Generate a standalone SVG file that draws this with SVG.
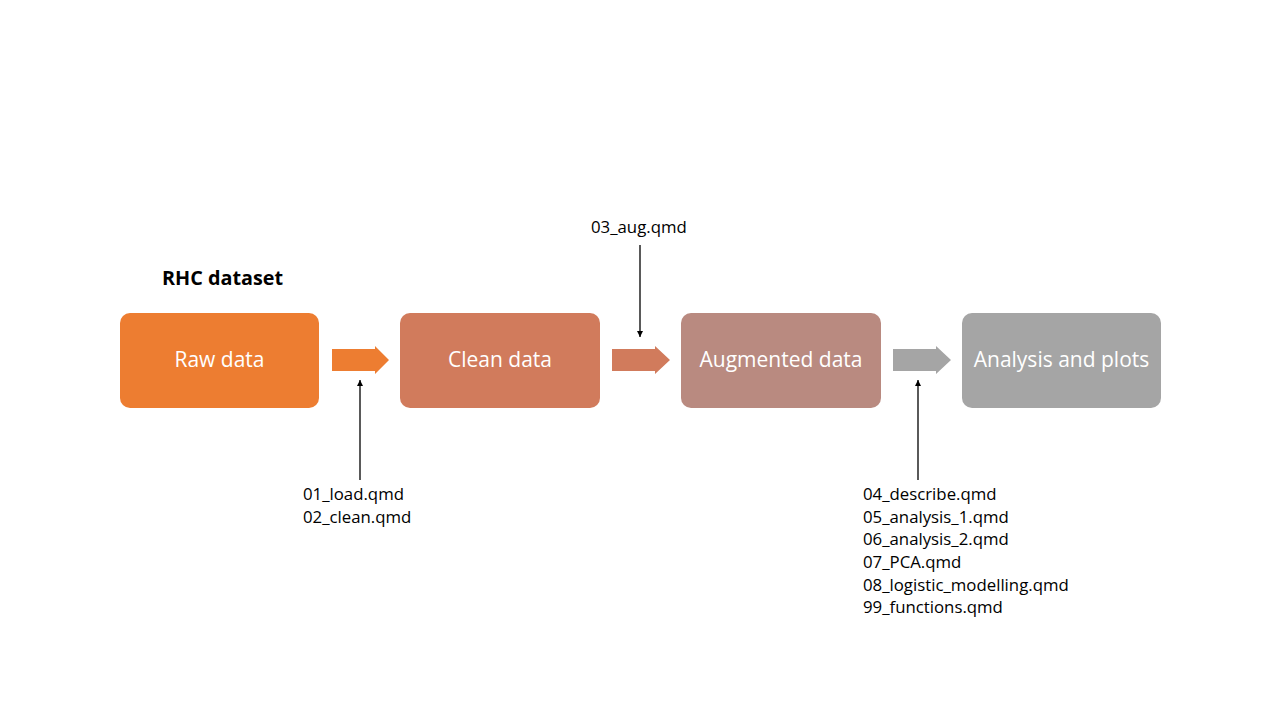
<svg xmlns="http://www.w3.org/2000/svg" width="1280" height="720" viewBox="0 0 1280 720">
<defs>
<style>
.box{stroke:none}
.bl{font-family:"Open Sans","Liberation Sans",sans-serif;font-size:21px;fill:#fff;text-anchor:middle}
.lb{font-family:"Open Sans","Liberation Sans",sans-serif;font-size:16.8px;fill:#000}
.ttl{font-family:"Open Sans","Liberation Sans",sans-serif;font-size:19.8px;font-weight:bold;fill:#000}
.thin{stroke:#000;stroke-width:1.3;fill:none;marker-end:url(#ah)}
</style>
<marker id="ah" viewBox="0 0 10 10" refX="10" refY="5" markerWidth="6" markerHeight="6" orient="auto" markerUnits="userSpaceOnUse">
<path d="M0,0 L10,5 L0,10 z" fill="#000"/>
</marker>
</defs>
<rect width="1280" height="720" fill="#fff"/>
<text class="ttl" x="162" y="285">RHC dataset</text>
<g id="raw"><rect class="box" x="120" y="313" width="199" height="95" rx="10" fill="#ED7D31"/><text class="bl" x="219.5" y="367">Raw data</text></g>
<g id="clean"><rect class="box" x="400" y="313" width="200" height="95" rx="10" fill="#D17B5C"/><text class="bl" x="500" y="367">Clean data</text></g>
<g id="aug"><rect class="box" x="681" y="313" width="200" height="95" rx="10" fill="#B98A80"/><text class="bl" x="781" y="367">Augmented data</text></g>
<g id="analysis"><rect class="box" x="962" y="313" width="199" height="95" rx="10" fill="#A5A5A5"/><text class="bl" x="1061.5" y="367">Analysis and plots</text></g>
<g id="connectors">
<polygon points="332,349 375,349 375,346 389,360 375,374 375,371 332,371" fill="#ED7D31"/>
<polygon points="612,349 655,349 655,346 670,360 655,374 655,371 612,371" fill="#D17B5C"/>
<polygon points="893,349 936,349 936,346 951,360 936,374 936,371 893,371" fill="#A5A5A5"/>
<line class="thin" x1="360" y1="480" x2="360" y2="380"/>
<line class="thin" x1="640" y1="245" x2="640" y2="337"/>
<line class="thin" x1="918" y1="480" x2="918" y2="380"/>
</g>
<g id="labels">
<text class="lb" x="591" y="233">03_aug.qmd</text>
<text class="lb" x="303" y="500">01_load.qmd</text>
<text class="lb" x="303" y="523">02_clean.qmd</text>
<text class="lb" x="863" y="500">04_describe.qmd</text>
<text class="lb" x="863" y="523">05_analysis_1.qmd</text>
<text class="lb" x="863" y="545">06_analysis_2.qmd</text>
<text class="lb" x="863" y="568">07_PCA.qmd</text>
<text class="lb" x="863" y="591">08_logistic_modelling.qmd</text>
<text class="lb" x="863" y="613">99_functions.qmd</text>
</g>
</svg>
